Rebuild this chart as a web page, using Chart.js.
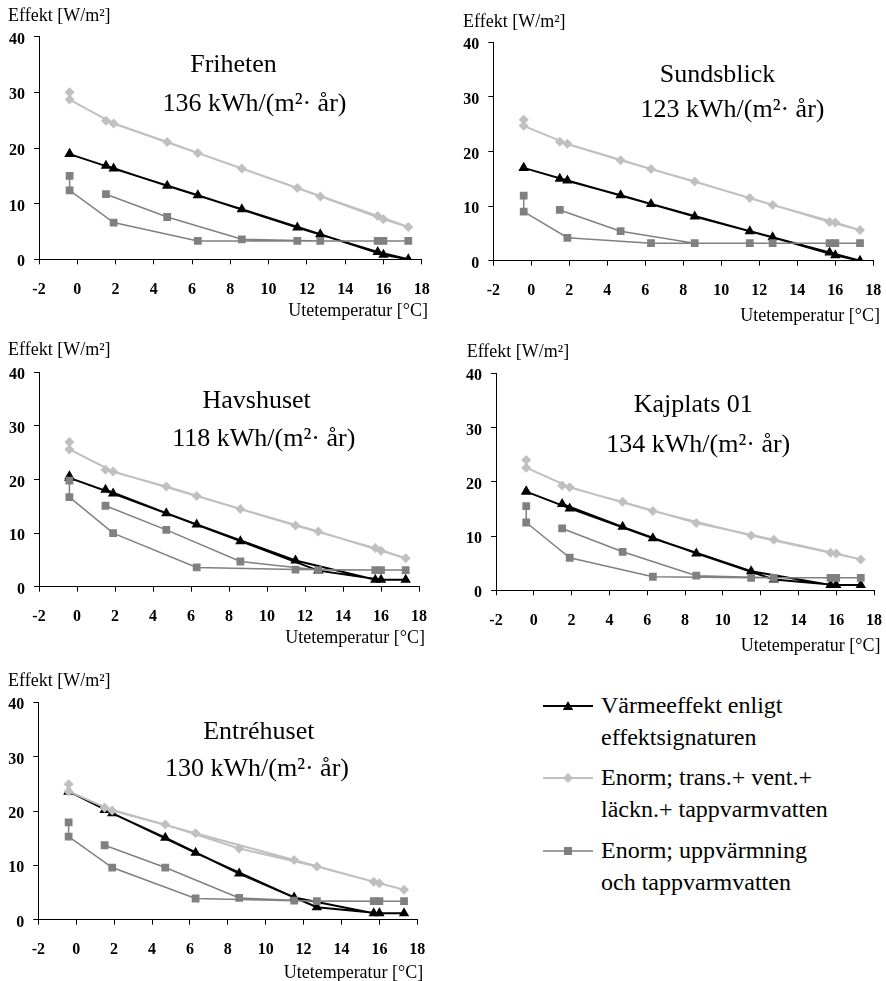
<!DOCTYPE html>
<html>
<head>
<meta charset="utf-8">
<script src="https://cdn.jsdelivr.net/npm/chart.js@4"></script>
<style>
  html, body { margin: 0; padding: 0; background: #fff; }
  body {
    width: 886px; height: 981px; position: relative; overflow: hidden;
    font-family: 'Liberation Serif', 'Times New Roman', serif; color: #000;
  }
  canvas { position: absolute; }
  .lbl { position: absolute; white-space: nowrap; line-height: 1; }
  .mid { transform: translate(-50%, -50%); }
  .vmid { transform: translateY(-50%); }
  .rgt { transform: translate(-100%, -50%); }
  .axis { font-size: 18px; }
  .ttl { font-size: 26px; }
  .legend { position: absolute; left: 543px; font-size: 24px; }
  .legend .item { position: absolute; left: 0; width: 340px; }
  .legend svg { position: absolute; left: 0; }
  .legend .txt { position: absolute; left: 58px; line-height: 32px; white-space: nowrap; }
</style>
</head>
<body>
<script>
// Monthly mean outdoor temperature (x), Jan..Dec
const months = ['jan', 'feb', 'mar', 'apr', 'maj', 'jun', 'jul', 'aug', 'sep', 'okt', 'nov', 'dec'];
const temps = [-0.4, -0.4, 1.9, 6.3, 11.5, 15.7, 17.3, 16.0, 12.7, 8.6, 4.7, 1.5];

const buildings = ['Friheten', 'Sundsblick', 'Havshuset', 'Kajplats 01', 'Entréhuset'];
const annualUse = [136, 123, 118, 134, 130];

const seriesNames = [
  ['Värmeeffekt enligt', 'effektsignaturen'],
  ['Enorm; trans.+ vent.+', 'läckn.+ tappvarmvatten'],
  ['Enorm; uppvärmning', 'och tappvarmvatten']
];

// W/m², Jan..Dec
const friSig  = [18.9, 18.9, 16.3, 11.5, 5.7, 1.3, 0.0, 0.8, 4.5, 9.0, 13.2, 16.8];
const friNorm = [30.0, 28.7, 24.4, 19.1, 12.8, 7.8, 5.8, 7.2, 11.3, 16.3, 21.1, 24.9];
const friHeat = [15.0, 12.4, 6.6, 3.3, 3.3, 3.3, 3.3, 3.3, 3.3, 3.6, 7.6, 11.7];

const sunSig  = [17.0, 17.0, 14.7, 10.4, 5.4, 1.5, 0.0, 1.0, 4.3, 8.1, 12.0, 15.0];
const sunNorm = [25.8, 24.7, 21.4, 16.8, 11.5, 7.1, 5.6, 7.0, 10.2, 14.5, 18.4, 21.8];
const sunHeat = [11.9, 9.0, 4.2, 3.2, 3.2, 3.2, 3.2, 3.2, 3.2, 3.2, 5.4, 9.3];

const havSig  = [20.6, 20.3, 17.4, 11.6, 4.9, 1.3, 1.3, 1.3, 3.0, 8.5, 13.7, 18.1];
const havNorm = [27.0, 25.6, 21.5, 16.9, 11.4, 7.2, 5.3, 6.7, 10.3, 14.5, 18.7, 21.8];
const havHeat = [19.8, 16.7, 10.0, 3.6, 3.2, 3.1, 3.1, 3.1, 3.1, 4.7, 10.6, 15.1];

const kajSig  = [18.2, 18.2, 15.1, 9.6, 3.5, 1.0, 1.0, 1.0, 2.0, 6.8, 11.7, 15.9];
const kajNorm = [24.0, 22.6, 19.0, 14.6, 10.1, 6.9, 5.7, 6.8, 9.3, 12.4, 16.3, 19.3];
const kajHeat = [15.5, 12.5, 6.0, 2.5, 2.3, 2.3, 2.3, 2.3, 2.3, 2.7, 7.1, 11.4];

const entSig  = [23.6, 23.6, 19.6, 12.3, 4.1, 1.2, 1.2, 1.2, 2.3, 8.5, 15.1, 20.2];
const entNorm = [24.9, 23.6, 20.1, 15.9, 11.0, 7.0, 5.5, 6.7, 9.8, 13.1, 17.5, 20.6];
const entHeat = [17.9, 15.3, 9.6, 3.9, 3.5, 3.4, 3.4, 3.4, 3.4, 4.0, 9.6, 13.7];

const sigSeries  = [friSig, sunSig, havSig, kajSig, entSig];
const normSeries = [friNorm, sunNorm, havNorm, kajNorm, entNorm];
const heatSeries = [friHeat, sunHeat, havHeat, kajHeat, entHeat];

const xMin = -2, xMax = 18, xStep = 2;
const yMin = 0, yMax = 40, yStep = 10;

const colors = { sig: '#000000', norm: '#c0c0c0', heat: '#808080' };
const fontFamily = "'Liberation Serif', 'Times New Roman', serif";

// plot areas on the page, plus label anchors
const layout = [
  { area: [39, 36.7, 421.7, 259.3],  effekt: [8, 15],   ute: [428, 310],   name: [233.5, 64],  use: [254.5, 102.5] },
  { area: [493.3, 42.3, 873.3, 260.7], effekt: [463, 21], ute: [880, 315],  name: [717.5, 74],  use: [732.5, 109] },
  { area: [39, 372.3, 419, 586.7],   effekt: [8, 349],  ute: [425, 636.7], name: [256.7, 400], use: [263.8, 437.5] },
  { area: [496, 373.3, 874, 590.3],  effekt: [466.7, 351], ute: [880.5, 645], name: [693.3, 404], use: [698.3, 444] },
  { area: [38.3, 702.3, 417.3, 919.7], effekt: [8, 679.7], ute: [423.3, 971.7], name: [258.8, 731], use: [257, 767.5] }
];

function addLabel(text, x, y, cls) {
  const d = document.createElement('div');
  d.className = 'lbl ' + cls;
  d.style.left = x + 'px';
  d.style.top = y + 'px';
  d.textContent = text;
  document.body.appendChild(d);
}

function toPoints(values) {
  return values.map((v, i) => ({ x: temps[i], y: v }));
}

function makePanel(i) {
  const L = layout[i];
  const [aL, aT, aR, aB] = L.area;
  const x0 = Math.floor(aL) - 45;
  const y0 = Math.floor(aT) - 20;
  // extra room on the right: the x scale asks for half the last label plus tick padding
  const w = Math.ceil(aR - x0 + 32);
  const h = Math.ceil(aB - y0 + 45);

  const canvas = document.createElement('canvas');
  canvas.width = w;
  canvas.height = h;
  canvas.style.left = x0 + 'px';
  canvas.style.top = y0 + 'px';
  canvas.style.width = w + 'px';
  canvas.style.height = h + 'px';
  document.body.appendChild(canvas);

  const tickFont = { family: fontFamily, size: 16, weight: 'bold' };

  new Chart(canvas, {
    type: 'scatter',
    data: {
      datasets: [
        {
          label: seriesNames[0].join(' '),
          data: toPoints(sigSeries[i]),
          showLine: true,
          borderColor: colors.sig,
          backgroundColor: colors.sig,
          borderWidth: 2,
          pointStyle: 'triangle',
          pointRadius: 6,
          pointBorderWidth: 0,
          order: 3
        },
        {
          label: seriesNames[1].join(' '),
          data: toPoints(normSeries[i]),
          showLine: true,
          borderColor: colors.norm,
          backgroundColor: colors.norm,
          borderWidth: 2,
          pointStyle: 'rectRot',
          pointRadius: 5,
          pointBorderWidth: 0,
          order: 2
        },
        {
          label: seriesNames[2].join(' '),
          data: toPoints(heatSeries[i]),
          showLine: true,
          borderColor: colors.heat,
          backgroundColor: colors.heat,
          borderWidth: 1.5,
          pointStyle: 'rect',
          pointRadius: 5.5,
          pointBorderWidth: 0,
          order: 1
        }
      ]
    },
    options: {
      responsive: false,
      animation: false,
      devicePixelRatio: 1,
      layout: {
        padding: { top: aT - y0, right: w - (aR - x0), left: 0, bottom: 0 }
      },
      plugins: {
        legend: { display: false },
        tooltip: { enabled: false }
      },
      scales: {
        x: {
          type: 'linear',
          min: xMin,
          max: xMax,
          afterFit: (s) => { s.height = h - (aB - y0); },
          ticks: { stepSize: xStep, font: tickFont, color: '#000', padding: 16, maxRotation: 0 },
          grid: { display: true, drawOnChartArea: false, drawTicks: true, tickLength: 5, color: '#000', lineWidth: 1 },
          border: { display: true, color: '#000', width: 1 }
        },
        y: {
          type: 'linear',
          min: yMin,
          max: yMax,
          afterFit: (s) => { s.width = aL - x0; },
          ticks: { stepSize: yStep, font: tickFont, color: '#000', padding: 9, labelOffset: 3 },
          grid: { display: true, drawOnChartArea: false, drawTicks: true, tickLength: 5, color: '#000', lineWidth: 1 },
          border: { display: true, color: '#000', width: 1 }
        }
      }
    }
  });

  addLabel('Effekt [W/m²]', L.effekt[0], L.effekt[1], 'axis vmid');
  addLabel('Utetemperatur [°C]', L.ute[0], L.ute[1], 'axis rgt');
  addLabel(buildings[i], L.name[0], L.name[1], 'ttl mid');
  addLabel(annualUse[i] + ' kWh/(m²· år)', L.use[0], L.use[1], 'ttl mid');
}

for (let i = 0; i < buildings.length; i++) makePanel(i);

// legend
const legendRows = [705.7, 778.3, 850.7];
const legendStyle = [
  { color: colors.sig, marker: 'tri', width: 2 },
  { color: colors.norm, marker: 'dia', width: 2 },
  { color: colors.heat, marker: 'sq', width: 1.5 }
];
const legend = document.createElement('div');
legend.className = 'legend';
legend.style.top = '0px';
document.body.appendChild(legend);
legendRows.forEach((rowY, k) => {
  const st = legendStyle[k];
  let m = '';
  if (st.marker === 'tri') m = `<polygon points="25,2 30.2,11 19.8,11" fill="${st.color}"/>`;
  if (st.marker === 'dia') m = `<polygon points="25,2 30,7 25,12 20,7" fill="${st.color}"/>`;
  if (st.marker === 'sq') m = `<rect x="21" y="3" width="8" height="8" fill="${st.color}"/>`;
  const item = document.createElement('div');
  item.className = 'item';
  item.style.top = (rowY - 7) + 'px';
  item.innerHTML = `<svg width="52" height="14" style="top:0"><line x1="0" y1="7" x2="50" y2="7" stroke="${st.color}" stroke-width="${st.width}"/>${m}</svg>` +
    `<div class="txt" style="top:${7 - 17}px">${seriesNames[k][0]}<br>${seriesNames[k][1]}</div>`;
  legend.appendChild(item);
});
</script>
</body>
</html>
